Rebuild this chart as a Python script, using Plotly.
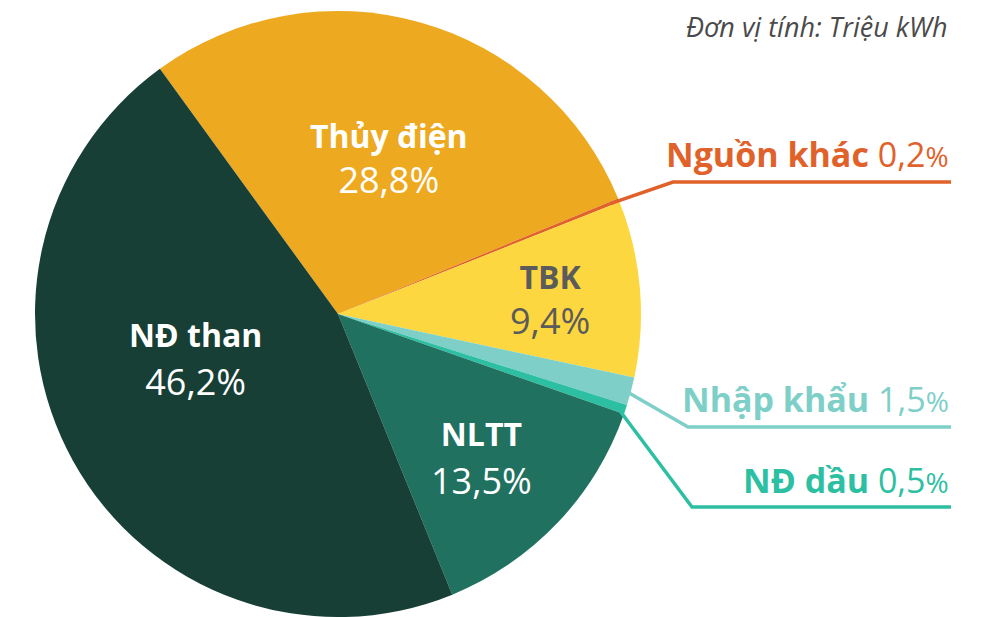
import math
import plotly.graph_objects as go

# ---- data ----
labels = ["Thủy điện", "Nguồn khác", "TBK", "Nhập khẩu", "NĐ dầu", "NLTT", "NĐ than"]
values = [28.8, 0.2, 9.4, 1.5, 0.5, 13.5, 46.2]
colors = ["#EDAA21", "#E0622A", "#FDD73F", "#7ECFC8", "#2DBFA2", "#207160", "#173F36"]
unit_note = ("Đơn vị tính:", "Triệu kWh")

OFF = 8                     # page body margin
W, H = 972, 609
CX, CY, R = 338, 314, 303   # page pixel geometry of the pie
ROT = -36
FONT = "Open Sans"


def fmt(v):
    return f"{v:.1f}".replace(".", ",")


def px(x):
    return (x - OFF) / W


def py(y):
    return 1 - (y - OFF) / H


fig = go.Figure(go.Pie(
    labels=labels, values=values, sort=False, direction="clockwise", rotation=ROT,
    marker=dict(colors=colors, line=dict(width=0)), textinfo="none", hoverinfo="label+percent",
    showlegend=False,
    domain=dict(x=[px(CX - R), px(CX + R)], y=[max(0, py(CY + R)), py(CY - R)]),
))

# slice mid-angles (clockwise from 12 o'clock) computed from the data
total = sum(values)
mid = {}
acc = ROT
for lab, v in zip(labels, values):
    span = v / total * 360
    mid[lab] = acc + span / 2
    acc += span


def on_circle(lab, k=1.0):
    a = math.radians(mid[lab])
    return CX + k * R * math.sin(a), CY - k * R * math.cos(a)


ann = []
shapes = []

# inside labels: (label, x centre, y centre of block, line gap px, text colour)
inside = [
    ("Thủy điện", 389, 159, 45, "white"),
    ("NĐ than", 195, 359, 48, "white"),
    ("TBK", 550, 300, 45, "#5B5B5B"),
    ("NLTT", 481, 458, 48, "white"),
]
for lab, x, yc, gap, col in inside:
    v = values[labels.index(lab)]
    ann.append(dict(x=px(x), y=py(yc),
                    text=(f"<span style='font-size:32px'><b>{lab}</b></span><br>"
                          f"<span style='font-size:36px'>{fmt(v)}%</span>"),
                    showarrow=False, xanchor="center", yanchor="middle", align="center",
                    font=dict(family=FONT, size=gap / 1.3, color=col)))

# outside labels with leader lines: (label, text y, elbow x, elbow y)
outside = [
    ("Nguồn khác", 154, 673, 182),
    ("Nhập khẩu", 399, 688, 427),
    ("NĐ dầu", 480, 692, 507),
]
X_END = 951
for lab, ty, ex, ey in outside:
    i = labels.index(lab)
    col = colors[i]
    sx, sy = on_circle(lab, 0.97)
    shapes.append(dict(type="path", xref="paper", yref="paper",
                       path=f"M{px(sx)},{py(sy)} L{px(ex)},{py(ey)} L{px(X_END)},{py(ey)}",
                       line=dict(color=col, width=3.5), layer="above"))
    ann.append(dict(x=px(X_END), y=py(ty),
                    text=f"<b>{lab}</b> {fmt(values[i])}<span style='font-size:28px'>%</span>",
                    showarrow=False, xanchor="right", yanchor="middle",
                    font=dict(family=FONT, size=34, color=col)))

ann.append(dict(x=px(950), y=py(27), text=f"<i>{unit_note[0]} {unit_note[1]}</i>",
                showarrow=False, xanchor="right", yanchor="middle",
                font=dict(family=FONT, size=27, color="#4A4A4A")))

fig.update_layout(
    width=W, height=H, margin=dict(l=0, r=0, t=0, b=0),
    paper_bgcolor="white", plot_bgcolor="white",
    annotations=ann, shapes=shapes,
)
fig.write_html("out.html")
